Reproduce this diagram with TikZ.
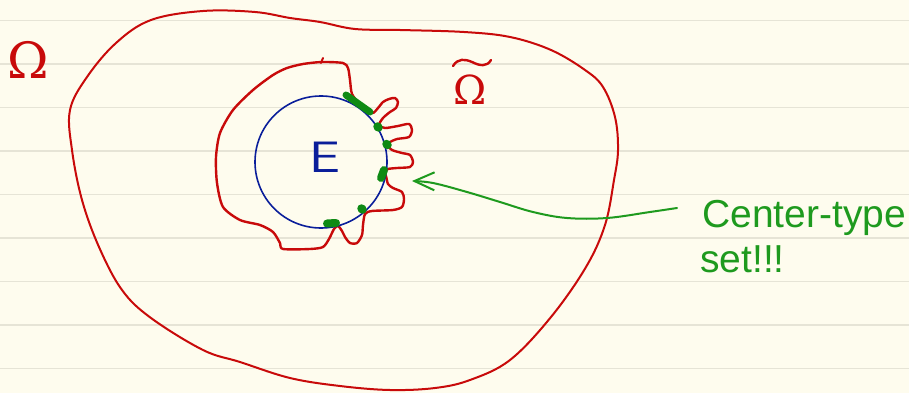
\documentclass[tikz,border=0pt]{standalone}
\usepackage{fontspec}
\usepackage{graphicx}
\newfontfamily\handfont{Liberation Sans}
\newfontfamily\greekfont{DejaVu Serif}
\usetikzlibrary{arrows.meta}
\definecolor{paper}{HTML}{FEFCEE}
\definecolor{ruleline}{HTML}{E6E4D6}
\definecolor{inkred}{HTML}{C80A0A}
\definecolor{inkblue}{HTML}{0A1E9A}
\definecolor{inkgreen}{HTML}{1E9A1E}
\definecolor{markgreen}{HTML}{0E8A14}
\begin{document}
\begin{tikzpicture}[x=1pt,y=-1pt,
  redline/.style={draw=inkred, line cap=round, line join=round},
  greenmark/.style={draw=markgreen, line cap=round},
  ruled/.style={draw=ruleline, line width=1.8pt}]
\fill[paper] (0,0) rectangle (909,393);
\useasboundingbox (0,0) rectangle (909,393);
\foreach \yy in {20.5,64,107.5,151,194.5,238,281.5,325,368.5}
  \draw[ruled] (0,\yy) -- (909,\yy);
% outer domain
\draw[redline, line width=2pt] plot[smooth cycle, tension=0.6] coordinates {
 (116,43) (151,20) (203,11) (255,12) (290,18) (320,22) (355,29) (400,30)
 (464,32) (510,37) (551,50) (585,70) (603,87) (615,117) (618,150) (614,180)
 (605,225) (586,267) (551,317) (510,360) (470,380) (435,388) (390,390)
 (340,386) (290,378) (240,362) (203,350) (151,318) (122,290) (99,247)
 (82,200) (72,150) (70,110) (87,77)};
% inner domain
\draw[redline, line width=2.4pt] plot[smooth cycle, tension=0.45] coordinates {
 (287,68) (303,64) (322,62) (343,63) (348,68) (350,80) (352,94) (360,104)
 (372,113) (378,108) (383,102) (389,99) (395,98) (398,102) (396,108)
 (390,112) (383,118) (379,125) (385,128) (398,126) (409,124) (412,130)
 (409,137) (397,139) (390,142) (387,145) (392,150) (402,153) (410,155)
 (413,162) (410,167) (397,168) (388,169) (384,172) (386,176) (388,184)
 (393,188) (402,192) (404,199) (402,207) (393,210) (372,211) (365,214)
 (363,225) (362,235) (357,243) (350,243) (345,237) (342,231) (338,226)
 (334,229) (329,239) (323,247) (310,249) (283,249) (280,243) (273,232)
 (260,225) (240,220) (223,207) (217,183) (216,157) (220,133) (233,110)
 (253,90) (273,75)};
\draw[redline, line width=2pt] (321,63) -- (323,58);
% set E
\draw[inkblue, line width=1.6pt] (321,162) circle[radius=66];
\node[text=inkblue, font=\sffamily\fontsize{44}{44}\selectfont, inner sep=0pt] (E) at (325,157) {\scalebox{1.25}[1]{E}};
% centre-type set marks
\draw[greenmark, line width=7pt] (346,95) -- (370,112);
\draw[greenmark, line width=8.5pt] (377.5,126.5) -- (378.5,127.5);
\draw[greenmark, line width=8.5pt] (386.5,144) -- (387.5,145);
\draw[greenmark, line width=8pt] (384,170) -- (381,178);
\draw[greenmark, line width=8.5pt] (361.5,208.5) -- (362.5,209.5);
\draw[greenmark, line width=8pt] (327,223.5) -- (336,223);
% labels
\node[text=inkred, font=\greekfont\fontsize{50}{50}\selectfont, inner sep=0pt] (om) at (28,60) {Ω};
\node[anchor=base, text=inkred, font=\greekfont\fontsize{40}{40}\selectfont, inner sep=0pt] (omt) at (470,105) {Ω};
\draw[redline, line width=2.4pt] (453,66) .. controls (458,58) and (465,59) .. (472,62)
  .. controls (480,66) and (487,67) .. (491,60);
\node[anchor=base west, text=inkgreen, font=\handfont\fontsize{39}{44}\selectfont, inner sep=0pt] (lab1) at (702,227) {Center-type};
\node[anchor=base west, text=inkgreen, font=\handfont\fontsize{39}{44}\selectfont, inner sep=0pt] (lab2) at (700,272) {set!!!};
% arrow
\coordinate (tail) at (677,208);
\coordinate (tip) at (412,181);
\draw[inkgreen, line width=2pt, line cap=round, -{Straight Barb[length=20pt, width=18pt, line width=2pt]}]
  plot[smooth, tension=0.6] coordinates {(tail) (650,212) (607,218) (567,218) (533,212) (500,202) (467,192) (433,183) (tip)};
\end{tikzpicture}
\end{document}
